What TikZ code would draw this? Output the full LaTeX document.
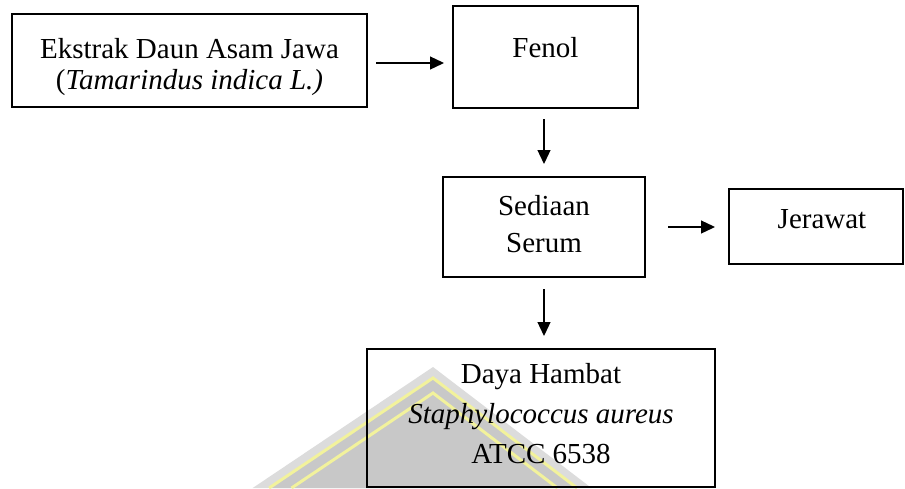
\documentclass[tikz,border=0pt]{standalone}
\usepackage{fontspec}
\setmainfont{Liberation Serif}
\usetikzlibrary{arrows.meta}
\definecolor{wmlight}{HTML}{DCDCDC}
\definecolor{wmgray}{HTML}{C8C8C8}
\definecolor{wmyellow}{HTML}{F2F29C}
\begin{document}
\begin{tikzpicture}[x=1pt,y=-1pt,
  box/.style={draw=black, line width=2pt, align=center, inner sep=0pt},
  arr/.style={line width=1.3pt, -{Triangle[length=14pt,width=13pt]}},
  wmline/.style={draw=wmyellow, line width=3pt},
]
\useasboundingbox (0,0) rectangle (905,488);
% watermark
\begin{scope}
\clip (0,0) rectangle (905,488);
\fill[wmlight] (433,367) -- (252.7,488) -- (591.5,488) -- cycle;
\fill[wmgray] (433,378) -- (269.1,488) -- (577.1,488) -- cycle;
\draw[wmline] (269.1,488) -- (433,378) -- (577.1,488);
\draw[wmline] (291.5,488) -- (433,393) -- (557.5,488);
\end{scope}
% boxes
\node[box, minimum width=355pt, minimum height=93pt, text height=63pt, text depth=6pt,
      font=\fontsize{29}{31}\selectfont] (ek) at (189.5,60.5)
      {Ekstrak Daun Asam Jawa\\(\textit{Tamarindus indica L.)}};
\node[box, minimum width=185pt, minimum height=102pt, text height=20pt, text depth=20pt,
      font=\fontsize{29}{35}\selectfont] (fe) at (545.5,57) {Fenol};
\node[box, minimum width=202pt, minimum height=100pt, text height=56pt, text depth=6pt,
      font=\fontsize{29}{37}\selectfont] (se) at (544,227) {Sediaan\\Serum};
\node[box, minimum width=174pt, minimum height=75pt, text height=20pt, text depth=16pt,
      font=\fontsize{29}{35}\selectfont] (je) at (816,226.5) {\hspace*{12pt}Jerawat};
\node[box, minimum width=348pt, minimum height=138pt, text height=96pt, text depth=6pt,
      font=\fontsize{29}{40}\selectfont] (dh) at (541,418)
      {Daya Hambat\\\textit{Staphylococcus aureus}\\ATCC 6538};
% connectors
\draw[arr, shorten <=8pt, shorten >=8pt] (ek.east |- 0,63) -- (fe.west |- 0,63);
\draw[arr, shorten <=10pt, shorten >=12pt] (fe.south -| se.center) -- (se.north);
\draw[arr, shorten <=22pt, shorten >=13pt] (se.east) -- (je.west |- se.east);
\draw[arr, shorten <=11pt, shorten >=12pt] (se.south) -- (dh.north -| se.south);
\end{tikzpicture}
\end{document}
